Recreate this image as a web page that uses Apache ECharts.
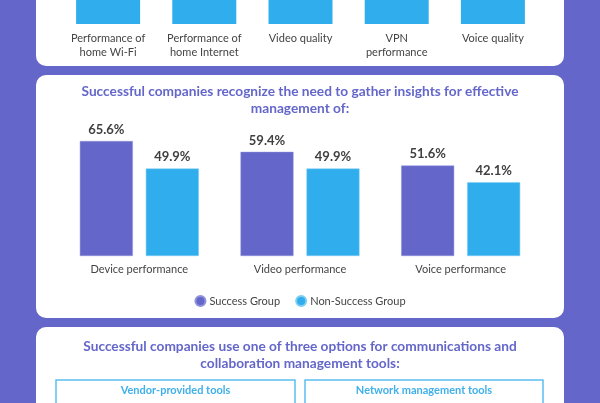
<!DOCTYPE html>
<html><head><meta charset="utf-8">
<script src="https://cdn.jsdelivr.net/npm/echarts@6/dist/echarts.min.js"></script>
<style>html,body{margin:0;padding:0;background:#6467c9;}#c{width:600px;height:403px;}</style>
</head><body><div id="c"></div>
<script>
// Top card (cut off): metrics categories
const topCategories = ['Performance of\nhome Wi-Fi', 'Performance of\nhome Internet', 'Video quality', 'VPN\nperformance', 'Voice quality'];
const topValues = [60, 58, 55, 52, 50]; // tops are outside the visible area

// Middle chart
const categories = ['Device performance', 'Video performance', 'Voice performance'];
const successGroup = [65.6, 59.4, 51.6];
const nonSuccessGroup = [49.9, 49.9, 42.1];
const seriesNames = ['Success Group', 'Non-Success Group'];

// Texts
const midTitle = 'Successful companies recognize the need to gather insights for effective\nmanagement of:';
const bottomTitle = 'Successful companies use one of three options for communications and\ncollaboration management tools:';
const toolOptions = ['Vendor-provided tools', 'Network management tools'];

const PURPLE = '#6467c9', BLUE = '#30adec', FONT = 'Lato';
const chart = echarts.init(document.getElementById('c'), null, {renderer: 'canvas'});

function card(x, y, w, h) {
  return {type: 'rect', z: -10, shape: {x, y, width: w, height: h, r: 10}, style: {fill: '#fff'}};
}

chart.setOption({
  backgroundColor: PURPLE,
  animation: false,
  textStyle: {fontFamily: FONT},
  graphic: [
    card(36, -20, 528, 86),
    card(36, 75, 528, 243),
    card(36, 327, 528, 100),
    {type: 'text', left: 'center', top: 83, style: {text: midTitle, fill: PURPLE, font: 'bold 13.7px Lato', textAlign: 'center', lineHeight: 17}},
    {type: 'text', left: 'center', top: 338, style: {text: bottomTitle, fill: PURPLE, font: 'bold 13.7px Lato', textAlign: 'center', lineHeight: 17}},
    {type: 'rect', shape: {x: 56, y: 380, width: 239, height: 40}, style: {fill: 'none', stroke: '#5bc0f0', lineWidth: 1.5}},
    {type: 'rect', shape: {x: 305, y: 380, width: 238, height: 40}, style: {fill: 'none', stroke: '#5bc0f0', lineWidth: 1.5}},
    {type: 'text', x: 175.5, y: 390, style: {text: toolOptions[0], fill: '#3fb0ea', font: 'bold 11px Lato', textAlign: 'center', textVerticalAlign: 'middle'}},
    {type: 'text', x: 424, y: 390, style: {text: toolOptions[1], fill: '#3fb0ea', font: 'bold 11px Lato', textAlign: 'center', textVerticalAlign: 'middle'}}
  ],
  legend: {
    data: seriesNames, top: 290, left: 'center', icon: 'circle', itemWidth: 10, itemHeight: 10, itemGap: 15,
    textStyle: {color: '#444', fontSize: 11, fontFamily: FONT, padding: [0, 0, 0, -1]}
  },
  grid: [
    {left: 60, width: 481, bottom: 379, height: 124, outerBoundsMode: 'none', containLabel: false},
    {left: 59, width: 482, top: 80.7, height: 175.3, outerBoundsMode: 'none', containLabel: false}
  ],
  xAxis: [
    {type: 'category', gridIndex: 0, data: topCategories, axisLine: {show: false}, axisTick: {show: false},
     axisLabel: {interval: 0, color: '#444', fontSize: 11, fontFamily: FONT, margin: 7, lineHeight: 14, verticalAlign: 'top'}},
    {type: 'category', gridIndex: 1, data: categories, axisLine: {show: false}, axisTick: {show: false},
     axisLabel: {interval: 0, color: '#444', fontSize: 11, fontFamily: FONT, margin: 8}}
  ],
  yAxis: [
    {type: 'value', gridIndex: 0, min: 0, max: 40, show: false},
    {type: 'value', gridIndex: 1, min: 0, max: 100, show: false}
  ],
  series: [
    {type: 'bar', xAxisIndex: 0, yAxisIndex: 0, data: topValues, barWidth: 64, itemStyle: {color: BLUE}, clip: true, silent: true, legendHoverLink: false},
    {name: seriesNames[0], type: 'bar', xAxisIndex: 1, yAxisIndex: 1, data: successGroup, barWidth: 53, barGap: '24.5%',
     itemStyle: {color: PURPLE, borderColor: '#8f92dc', borderWidth: 0.5},
     label: {show: true, position: 'top', distance: 5, formatter: p => p.value.toFixed(1) + '%', color: '#404040', fontSize: 13, fontWeight: 'bold', fontFamily: FONT}},
    {name: seriesNames[1], type: 'bar', xAxisIndex: 1, yAxisIndex: 1, data: nonSuccessGroup, barWidth: 53, barGap: '24.5%',
     itemStyle: {color: BLUE, borderColor: '#7fcdf3', borderWidth: 0.5},
     label: {show: true, position: 'top', distance: 5, formatter: p => p.value.toFixed(1) + '%', color: '#404040', fontSize: 13, fontWeight: 'bold', fontFamily: FONT}}
  ]
});
</script></body></html>
